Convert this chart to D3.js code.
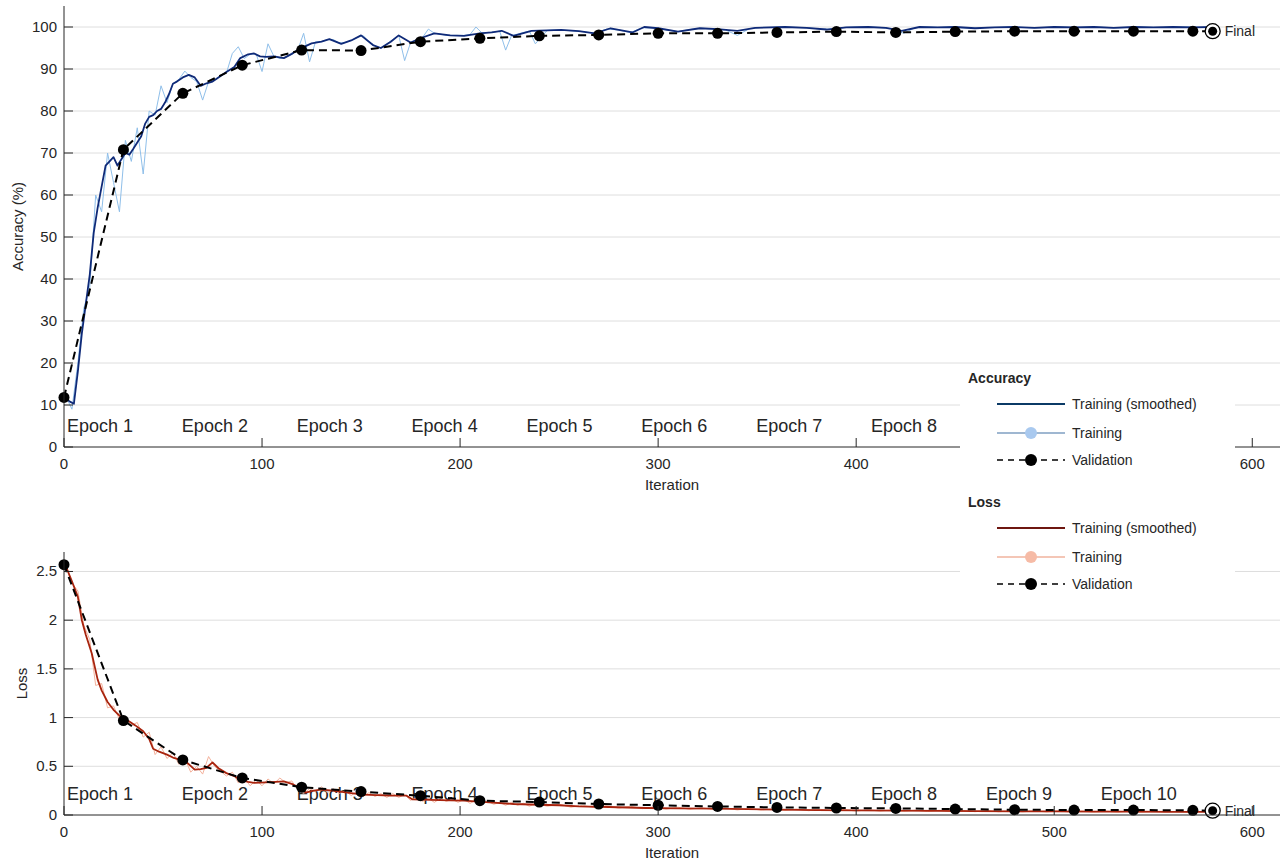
<!DOCTYPE html>
<html>
<head>
<meta charset="utf-8">
<script src="https://cdn.jsdelivr.net/npm/d3@7"></script>
<style>
  body { margin: 0; background: #fff; }
  #chart { width: 1282px; height: 864px; }
  text { font-family: "Liberation Sans", Arial, Helvetica, sans-serif; fill: #262626; }
</style>
</head>
<body>
<div id="chart"></div>
<script>
// Iterations: raw training logged every few iterations (sampled), validation every 30
const rawIters = d3.range(1, 239, 3).concat(d3.range(244, 577, 6)).concat([580])
const valIters = d3.range(0, 571, 30)
const finalIter = 580
const epochStarts = [0, 58, 116, 174, 232, 290, 348, 406, 464, 522]
const epochLabels = ["Epoch 1", "Epoch 2", "Epoch 3", "Epoch 4", "Epoch 5",
                     "Epoch 6", "Epoch 7", "Epoch 8", "Epoch 9", "Epoch 10"]

const accTicks = [0, 10, 20, 30, 40, 50, 60, 70, 80, 90, 100]
const lossTicks = [0, 0.5, 1, 1.5, 2, 2.5]
const iterTicks = [0, 100, 200, 300, 400, 500, 600]

// Accuracy (%)
const smoothAccIters = [1, 3, 5, 7, 9, 11, 13, 15, 17, 19, 21, 23, 25, 27, 29, 31, 33, 35, 37, 39,
  41, 43, 45, 47, 49, 51, 53, 55, 57, 60, 63, 66, 69, 72, 75, 78, 82, 86, 89, 93,
  96, 99, 102, 106, 111, 115, 119, 125, 130, 134, 140, 145, 150, 156, 160, 165, 169, 175, 181, 187,
  195, 202, 210, 216, 221, 227, 236, 244, 251, 260, 268, 276, 287, 293, 300, 310, 321, 330, 340, 349,
  364, 375, 385, 395, 406, 415, 423, 432, 441, 450, 460, 470, 480, 490, 500, 510, 520, 530, 540, 550,
  560, 570, 580]
const smoothAcc = [11.5, 10.8, 10.3, 18, 27, 34, 41, 51, 57, 62, 67, 68, 69, 67, 68.5, 70, 69.6, 71, 72.5, 74,
  77, 78.6, 79, 80, 80.5, 82, 84, 86.5, 87, 88, 88.6, 88, 86, 86.6, 87, 88, 89.3, 90.5, 92.6, 93.5,
  93.7, 93, 92.9, 93, 92.6, 93.6, 94.8, 96.1, 96.5, 97.1, 96, 96.8, 98, 95.7, 95, 96.5, 98, 96.3, 97.5, 98.5,
  98, 97.9, 98.5, 98.7, 99.1, 97.9, 99.1, 99.2, 99.3, 99, 98.5, 99.7, 98.7, 100, 99.7, 98.9, 99.7, 99.5, 99.1, 99.8,
  100, 99.8, 99.4, 99.9, 100, 99.8, 99.1, 100, 99.9, 100, 99.7, 99.9, 100, 99.8, 100, 99.9, 100, 99.8, 100, 99.9,
  100, 99.9, 100]
const rawAcc = [12, 9, 20, 33, 38, 60, 56, 70, 63, 56, 73, 68, 76, 65, 80, 79, 86, 82, 86.5, 87.5,
  89.5, 88, 87, 82.6, 87, 87.3, 88.5, 89, 93.7, 95.3, 92.5, 93.5, 93.6, 89.4, 96, 93, 92.5, 92.8, 93.5, 94.5,
  98.5, 91.7, 96.5, 96.5, 97, 97, 96.2, 96.3, 96.8, 97.5, 98, 96.5, 95.5, 95, 96, 97, 98, 92, 96.3, 97,
  97.5, 99.5, 98.5, 98.3, 98, 98, 98, 98, 98.2, 100, 98.6, 98.7, 98.8, 99, 94.5, 98, 98.3, 98.7, 99, 96,
  99.2, 99.3, 99.1, 98.9, 98.5, 99.5, 99.3, 98.7, 99.8, 99.8, 99.3, 98.9, 99.4, 99.7, 99.5, 99.3, 98, 99.6, 99.9, 99.9,
  100, 99.9, 99.8, 99.5, 99.5, 99.9, 100, 100, 99.9, 99.6, 98.5, 99.9, 100, 99.9, 100, 99.8, 99.7, 99.9, 99.9, 100,
  99.9, 99.8, 99.9, 100, 99.9, 99.9, 100, 99.9, 99.8, 99.9, 100, 99.9, 99.9, 100, 100, 99.9, 100]
const valAcc = [11.8, 70.8, 84.2, 90.9, 94.5, 94.4, 96.5, 97.3, 97.9, 98.1,
  98.5, 98.5, 98.7, 98.9, 98.7, 98.9, 99.0, 99.0, 99.0, 99.0]
const finalAcc = 99.0

// Loss
const smoothLossIters = [1, 4, 7, 9, 11, 14, 17, 19, 22, 25, 28, 31, 33, 36, 40, 43, 45, 48, 52, 55,
  58, 62, 66, 69, 72, 75, 78, 82, 86, 89, 93, 96, 102, 107, 111, 115, 118, 122, 126, 130,
  136, 143, 151, 158, 165, 173, 176, 185, 195, 202, 215, 227, 240, 250, 260, 275, 294, 310, 328, 345,
  361, 380, 400, 420, 440, 460, 480, 500, 520, 540, 560, 580]
const smoothLoss = [2.55, 2.4, 2.24, 2.0, 1.85, 1.66, 1.39, 1.28, 1.16, 1.08, 1.02, 0.97, 0.96, 0.92, 0.86, 0.78, 0.68, 0.65, 0.62, 0.59,
  0.57, 0.54, 0.465, 0.47, 0.485, 0.54, 0.48, 0.43, 0.40, 0.36, 0.34, 0.33, 0.335, 0.34, 0.345, 0.32, 0.29, 0.23, 0.25, 0.26,
  0.25, 0.23, 0.21, 0.205, 0.2, 0.198, 0.16, 0.155, 0.15, 0.147, 0.13, 0.113, 0.105, 0.1, 0.088, 0.082, 0.072, 0.068, 0.065, 0.06,
  0.055, 0.05, 0.048, 0.045, 0.043, 0.04, 0.038, 0.037, 0.035, 0.034, 0.033, 0.032]
const rawLoss = [2.56, 2.38, 2.3, 1.95, 1.8, 1.33, 1.35, 1.1, 1.12, 0.98, 1.0, 0.92, 0.95, 0.8, 0.85, 0.62, 0.7, 0.58, 0.64, 0.52,
  0.58, 0.44, 0.5, 0.42, 0.6, 0.5, 0.45, 0.4, 0.44, 0.33, 0.38, 0.3, 0.36, 0.3, 0.37, 0.32, 0.38, 0.33, 0.35, 0.26,
  0.22, 0.27, 0.24, 0.29, 0.23, 0.27, 0.22, 0.25, 0.2, 0.24, 0.19, 0.23, 0.19, 0.22, 0.18, 0.22, 0.18, 0.21, 0.15, 0.18,
  0.14, 0.17, 0.13, 0.17, 0.14, 0.16, 0.13, 0.16, 0.12, 0.15, 0.11, 0.14, 0.11, 0.13, 0.1, 0.13, 0.1, 0.12, 0.09, 0.12,
  0.09, 0.11, 0.08, 0.1, 0.075, 0.095, 0.07, 0.09, 0.065, 0.085, 0.06, 0.08, 0.058, 0.075, 0.055, 0.072, 0.052, 0.068, 0.05, 0.064,
  0.046, 0.062, 0.044, 0.058, 0.042, 0.056, 0.04, 0.054, 0.04, 0.052, 0.038, 0.05, 0.036, 0.049, 0.035, 0.047, 0.034, 0.045, 0.033, 0.044,
  0.032, 0.043, 0.031, 0.042, 0.03, 0.041, 0.03, 0.04, 0.029, 0.039, 0.028, 0.038, 0.028, 0.037, 0.027, 0.036, 0.03]
const valLoss = [2.57, 0.97, 0.565, 0.38, 0.285, 0.24, 0.198, 0.147, 0.133, 0.113,
  0.10, 0.088, 0.078, 0.072, 0.068, 0.061, 0.054, 0.051, 0.051, 0.048]
const finalLoss = 0.044

const W = 1282, H = 864
const textColor = "#262626"
const gridColor = "#dedede"

var svg = d3.select("#chart")
            .append("svg")
              .attr("width", W)
              .attr("height", H)

var x = d3.scaleLinear().domain([0, 614]).range([64, 1280])

function pairs(xs, ys) {
  return xs.slice(0, ys.length).map((d, i) => [d, ys[i]])
}

function drawPanel(opts) {
  var y = d3.scaleLinear().domain(opts.yDomain).range(opts.yRange)
  var g = svg.append("g")

  // grid
  g.selectAll(".grid")
    .data(opts.yTicks.filter(t => t > 0)).enter()
    .append("line")
      .attr("x1", x.range()[0]).attr("x2", x.range()[1])
      .attr("y1", d => y(d)).attr("y2", d => y(d))
      .attr("stroke", gridColor)
      .attr("stroke-width", 1)

  // epoch labels (the top panel's last ones sit under the legend)
  g.selectAll(".epoch")
    .data(epochStarts.slice(0, opts.epochs)).enter()
    .append("text")
      .attr("x", d => x(d) + 3)
      .attr("y", y(0) - 15)
      .attr("font-size", 18)
      .text((d, i) => epochLabels[i])

  var line = d3.line().x(d => x(d[0])).y(d => y(d[1]))

  // raw training
  g.append("path")
    .datum(pairs(rawIters, opts.raw))
    .attr("d", line)
    .attr("fill", "none")
    .attr("stroke", opts.rawColor)
    .attr("stroke-width", 1)

  // smoothed training
  g.append("path")
    .datum(pairs(opts.smoothIters, opts.smooth))
    .attr("d", line)
    .attr("fill", "none")
    .attr("stroke", opts.smoothColor)
    .attr("stroke-width", 1.8)
    .attr("stroke-linejoin", "round")

  // validation
  var valData = pairs(valIters, opts.val).concat([[finalIter, opts.final]])
  g.append("path")
    .datum(valData)
    .attr("d", line)
    .attr("fill", "none")
    .attr("stroke", "#000")
    .attr("stroke-width", 2)
    .attr("stroke-dasharray", "8,5")

  g.selectAll(".val")
    .data(pairs(valIters, opts.val)).enter()
    .append("circle")
      .attr("cx", d => x(d[0]))
      .attr("cy", d => y(d[1]))
      .attr("r", 5.5)
      .attr("fill", "#000")

  // final marker
  g.append("circle")
    .attr("cx", x(finalIter)).attr("cy", y(opts.final))
    .attr("r", 7.5)
    .attr("fill", "#fff")
    .attr("stroke", "#000")
    .attr("stroke-width", 1.3)
  g.append("circle")
    .attr("cx", x(finalIter)).attr("cy", y(opts.final))
    .attr("r", 4.5)
    .attr("fill", "#000")
  g.append("text")
    .attr("x", x(finalIter) + 12)
    .attr("y", y(opts.final) + 5)
    .attr("font-size", 14)
    .text("Final")

  // axes lines
  g.append("line")
    .attr("x1", x.range()[0]).attr("x2", x.range()[0])
    .attr("y1", opts.yRange[1]).attr("y2", opts.yRange[0])
    .attr("stroke", textColor).attr("stroke-width", 1)
  g.append("line")
    .attr("x1", x.range()[0]).attr("x2", x.range()[1])
    .attr("y1", y(0)).attr("y2", y(0))
    .attr("stroke", textColor).attr("stroke-width", 1)

  // x ticks
  g.selectAll(".xt")
    .data(iterTicks).enter()
    .append("line")
      .attr("x1", d => x(d)).attr("x2", d => x(d))
      .attr("y1", y(0)).attr("y2", y(0) - 9)
      .attr("stroke", textColor)
  g.selectAll(".xl")
    .data(iterTicks).enter()
    .append("text")
      .attr("x", d => x(d))
      .attr("y", y(0) + 22)
      .attr("text-anchor", "middle")
      .attr("font-size", 15)
      .text(d => d)

  // y ticks
  g.selectAll(".yt")
    .data(opts.yTicks).enter()
    .append("line")
      .attr("x1", x.range()[0]).attr("x2", x.range()[0] + 9)
      .attr("y1", d => y(d)).attr("y2", d => y(d))
      .attr("stroke", textColor)
  g.selectAll(".yl")
    .data(opts.yTicks).enter()
    .append("text")
      .attr("x", x.range()[0] - 7)
      .attr("y", d => y(d) + 5)
      .attr("text-anchor", "end")
      .attr("font-size", 15)
      .text(d => d)

  // titles
  g.append("text")
    .attr("x", (x.range()[0] + x.range()[1]) / 2)
    .attr("y", y(0) + 43)
    .attr("text-anchor", "middle")
    .attr("font-size", 15)
    .text("Iteration")
  g.append("text")
    .attr("transform", "translate(" + opts.titleX + "," + ((opts.yRange[0] + opts.yRange[1]) / 2) + ") rotate(-90)")
    .attr("text-anchor", "middle")
    .attr("font-size", 15)
    .text(opts.title)
}

drawPanel({
  yDomain: [0, 105], yRange: [447, 6], yTicks: accTicks,
  raw: rawAcc, smooth: smoothAcc, smoothIters: smoothAccIters,
  val: valAcc, final: finalAcc, epochs: 8,
  rawColor: "#8fbfea", smoothColor: "#0f2a78",
  title: "Accuracy (%)", titleX: 23
})

drawPanel({
  yDomain: [0, 2.7], yRange: [815, 552], yTicks: lossTicks,
  raw: rawLoss, smooth: smoothLoss, smoothIters: smoothLossIters,
  val: valLoss, final: finalLoss, epochs: 10,
  rawColor: "#f4b29c", smoothColor: "#a8240e",
  title: "Loss", titleX: 27
})

// Legend
var legend = svg.append("g")
legend.append("rect")
  .attr("x", 960).attr("y", 366)
  .attr("width", 275).attr("height", 240)
  .attr("fill", "#fff")

var legendGroups = [
  {title: "Accuracy", y: 383, smooth: "#0b3a66", raw: "#7f9fc2", dot: "#a9c9ef"},
  {title: "Loss", y: 507, smooth: "#6e1610", raw: "#f1b39e", dot: "#f6bba6"}
]
var rowLabels = ["Training (smoothed)", "Training", "Validation"]
var rowOffsets = [21, 50, 77]

legendGroups.forEach(lg => {
  legend.append("text")
    .attr("x", 968).attr("y", lg.y)
    .attr("font-size", 14)
    .attr("font-weight", "bold")
    .text(lg.title)

  rowOffsets.forEach((off, i) => {
    var ry = lg.y + off
    if (i === 0) {
      legend.append("line")
        .attr("x1", 997).attr("x2", 1065).attr("y1", ry).attr("y2", ry)
        .attr("stroke", lg.smooth).attr("stroke-width", 2)
    } else if (i === 1) {
      legend.append("line")
        .attr("x1", 997).attr("x2", 1065).attr("y1", ry).attr("y2", ry)
        .attr("stroke", lg.raw).attr("stroke-width", 1.5)
      legend.append("circle")
        .attr("cx", 1031).attr("cy", ry).attr("r", 6)
        .attr("fill", lg.dot)
    } else {
      legend.append("line")
        .attr("x1", 997).attr("x2", 1065).attr("y1", ry).attr("y2", ry)
        .attr("stroke", "#000").attr("stroke-width", 1.5)
        .attr("stroke-dasharray", "6,5")
      legend.append("circle")
        .attr("cx", 1031).attr("cy", ry).attr("r", 6)
        .attr("fill", "#000")
    }
    legend.append("text")
      .attr("x", 1072).attr("y", ry + 5)
      .attr("font-size", 14)
      .text(rowLabels[i])
  })
})
</script>
</body>
</html>
